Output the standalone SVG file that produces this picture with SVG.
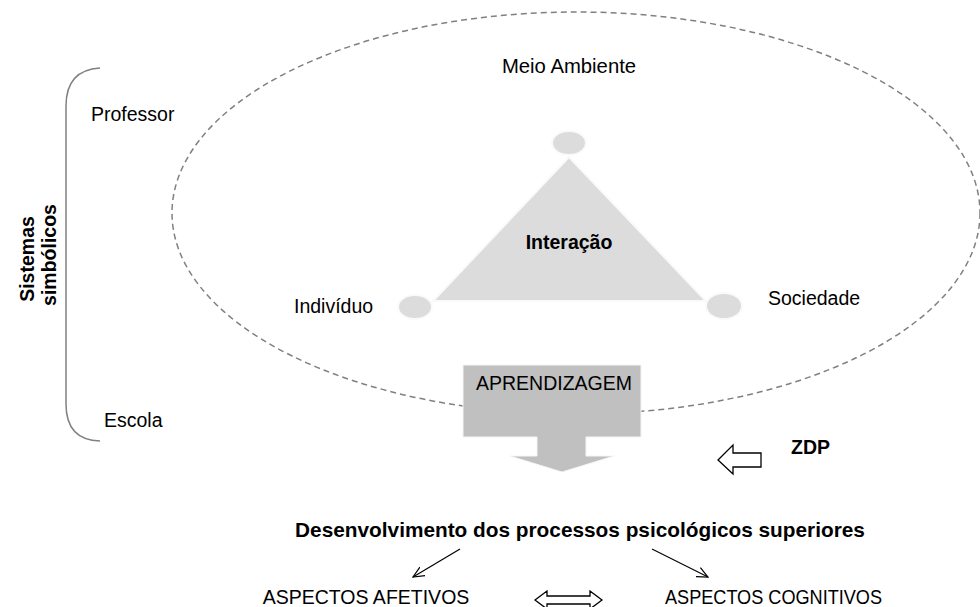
<svg xmlns="http://www.w3.org/2000/svg" width="980" height="607" viewBox="0 0 980 607">
<defs>
<style>
.t{font-family:"Liberation Sans",Arial,sans-serif;font-size:19.5px;fill:#000}
.b{font-weight:bold}
.node{fill:#dcdcdc;stroke:#fafafa;stroke-width:2}
.dash{fill:none;stroke:#808080;stroke-width:1.5;stroke-dasharray:6 4}
.ln{fill:none;stroke:#000;stroke-width:1.2}
.blk{fill:#fff;stroke:#000;stroke-width:1.3}
</style>
<marker id="ah" viewBox="0 0 12 12" refX="11" refY="6" markerWidth="12" markerHeight="12" markerUnits="userSpaceOnUse" orient="auto">
<path d="M0,1 L11,6 L0,11" fill="none" stroke="#000" stroke-width="1.2"/>
</marker>
</defs>
<rect width="980" height="607" fill="#fff"/>
<g id="meio-ambiente">
<ellipse class="dash" cx="576" cy="213" rx="404" ry="201"/>
<text class="t" x="569" y="73" text-anchor="middle" style="font-size:20.3px">Meio Ambiente</text>
</g>
<g id="sistemas-simbolicos">
<path d="M100,68 Q66,70 66,106 L66,404 Q66,440 100,441" fill="none" stroke="#808080" stroke-width="1.5"/>
<text class="t b" transform="translate(34,259) rotate(-90)" text-anchor="middle">Sistemas</text>
<text class="t b" transform="translate(56,255) rotate(-90)" text-anchor="middle">simbólicos</text>
</g>
<g id="professor"><text class="t" x="91" y="121">Professor</text></g>
<g id="escola"><text class="t" x="104" y="427">Escola</text></g>
<g id="interacao">
<polygon class="node" points="569,157 433,301 706,301"/>
<text class="t b" x="569" y="249" text-anchor="middle">Interação</text>
</g>
<g id="vertice-topo"><ellipse class="node" cx="569" cy="143" rx="17" ry="12"/></g>
<g id="individuo">
<ellipse class="node" cx="415" cy="307" rx="17" ry="12"/>
<text class="t" x="294" y="313">Indivíduo</text>
</g>
<g id="sociedade">
<ellipse class="node" cx="724" cy="306" rx="18" ry="13"/>
<text class="t" x="768" y="305">Sociedade</text>
</g>
<g id="aprendizagem">
<path d="M463,365 H641 V437 H586 V456 H614 L562,472 L510,456 H537 V437 H463 Z" fill="#c0c0c0" stroke="#f4f4f4" stroke-width="1"/>
<text class="t" x="554" y="390" text-anchor="middle">APRENDIZAGEM</text>
</g>
<g id="zdp">
<polygon class="blk" points="718,460 733,445 733,453 761,453 761,467 733,467 733,474"/>
<text class="t b" x="791" y="454">ZDP</text>
</g>
<g id="desenvolvimento">
<text class="t b" x="580" y="537" text-anchor="middle" style="font-size:20.8px">Desenvolvimento dos processos psicológicos superiores</text>
</g>
<g id="aspectos-afetivos"><text class="t" x="366" y="604" text-anchor="middle">ASPECTOS AFETIVOS</text></g>
<g id="aspectos-cognitivos"><text class="t" x="665" y="604" textLength="217" lengthAdjust="spacingAndGlyphs">ASPECTOS COGNITIVOS</text></g>
<g id="connectors">
<line class="ln" x1="460" y1="549" x2="413" y2="577" marker-end="url(#ah)"/>
<line class="ln" x1="652" y1="549" x2="708" y2="577" marker-end="url(#ah)"/>
<polygon class="blk" points="535,600 547,591 547,596 590,596 590,591 602,600 590,609 590,604 547,604 547,609"/>
</g>
</svg>
